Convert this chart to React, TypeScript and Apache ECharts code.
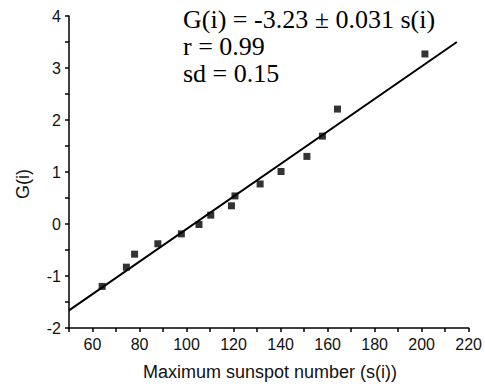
import React, { useEffect, useRef } from "react";
import * as echarts from "echarts";

const sunspotMax = [64.1, 74.4, 77.9, 87.8, 97.8, 105.3, 110.3, 119.1, 120.6, 131.3, 140.2, 151.2, 157.8, 164.2, 201.4];
const gValues = [-1.2, -0.83, -0.58, -0.38, -0.19, -0.01, 0.17, 0.35, 0.54, 0.77, 1.01, 1.3, 1.69, 2.21, 3.27];
const fitLineS = [50, 215];
const fitLineG = [-1.66, 3.5];
const equationLines = ["G(i) = -3.23 \u00b1 0.031 s(i)", "r = 0.99", "sd = 0.15"];
const xAxisTitle = "Maximum sunspot number (s(i))";
const yAxisTitle = "G(i)";

export default function App() {
  const ref = useRef<HTMLDivElement>(null);
  useEffect(() => {
    if (!ref.current) return;
    const chart = echarts.init(ref.current, null, { renderer: "svg" });
    const points = sunspotMax.map((s, i) => [s, gValues[i]]);
    const fit = fitLineS.map((s, i) => [s, fitLineG[i]]);
    const sans = "Liberation Sans";
    const serif = "Liberation Serif";
    chart.setOption({
      animation: false,
      backgroundColor: "#ffffff",
      grid: { left: 69, right: 14, top: 16, bottom: 60 },
      xAxis: {
        type: "value",
        min: 50,
        max: 220,
        interval: 10,
        axisLine: { onZero: false, lineStyle: { color: "#000", width: 1.5 } },
        axisTick: { show: true, length: 4, lineStyle: { color: "#000", width: 1.5 } },
        axisLabel: {
          color: "#111",
          fontFamily: sans,
          fontSize: 16,
          margin: 8,
          formatter: (v: number) => (v % 20 === 0 ? String(v) : ""),
        },
        splitLine: { show: false },
      },
      yAxis: {
        type: "value",
        min: -2,
        max: 4,
        interval: 0.5,
        axisLine: { show: true, onZero: false, lineStyle: { color: "#000", width: 1.5 } },
        axisTick: { show: true, length: 4, lineStyle: { color: "#000", width: 1.5 } },
        axisLabel: {
          color: "#111",
          fontFamily: sans,
          fontSize: 16,
          margin: 8,
          formatter: (v: number) => (Number.isInteger(v) ? String(v) : ""),
        },
        splitLine: { show: false },
      },
      series: [
        {
          type: "line",
          data: fit,
          showSymbol: false,
          lineStyle: { color: "#000", width: 2 },
          silent: true,
        },
        {
          type: "scatter",
          data: points,
          symbol: "rect",
          symbolSize: 7,
          itemStyle: { color: "#000" },
        },
      ],
      graphic: [
        ...equationLines.map((t, i) => ({
          type: "text",
          x: 183,
          y: 19 + i * 27,
          style: {
            text: t,
            fill: "#000",
            fontFamily: serif,
            fontSize: 26,
            align: "left",
            verticalAlign: "middle",
          },
        })),
        {
          type: "text",
          x: 270,
          y: 372,
          style: {
            text: xAxisTitle,
            fill: "#111",
            fontFamily: sans,
            fontSize: 18,
            align: "center",
            verticalAlign: "middle",
          },
        },
        {
          type: "text",
          x: 23,
          y: 184,
          rotation: Math.PI / 2,
          style: {
            text: yAxisTitle,
            fill: "#111",
            fontFamily: sans,
            fontSize: 18,
            align: "center",
            verticalAlign: "middle",
          },
        },
      ],
    });
    return () => chart.dispose();
  }, []);
  return (
    <div
      ref={ref}
      style={{ position: "fixed", left: 0, top: 0, width: 485, height: 388 }}
    />
  );
}
